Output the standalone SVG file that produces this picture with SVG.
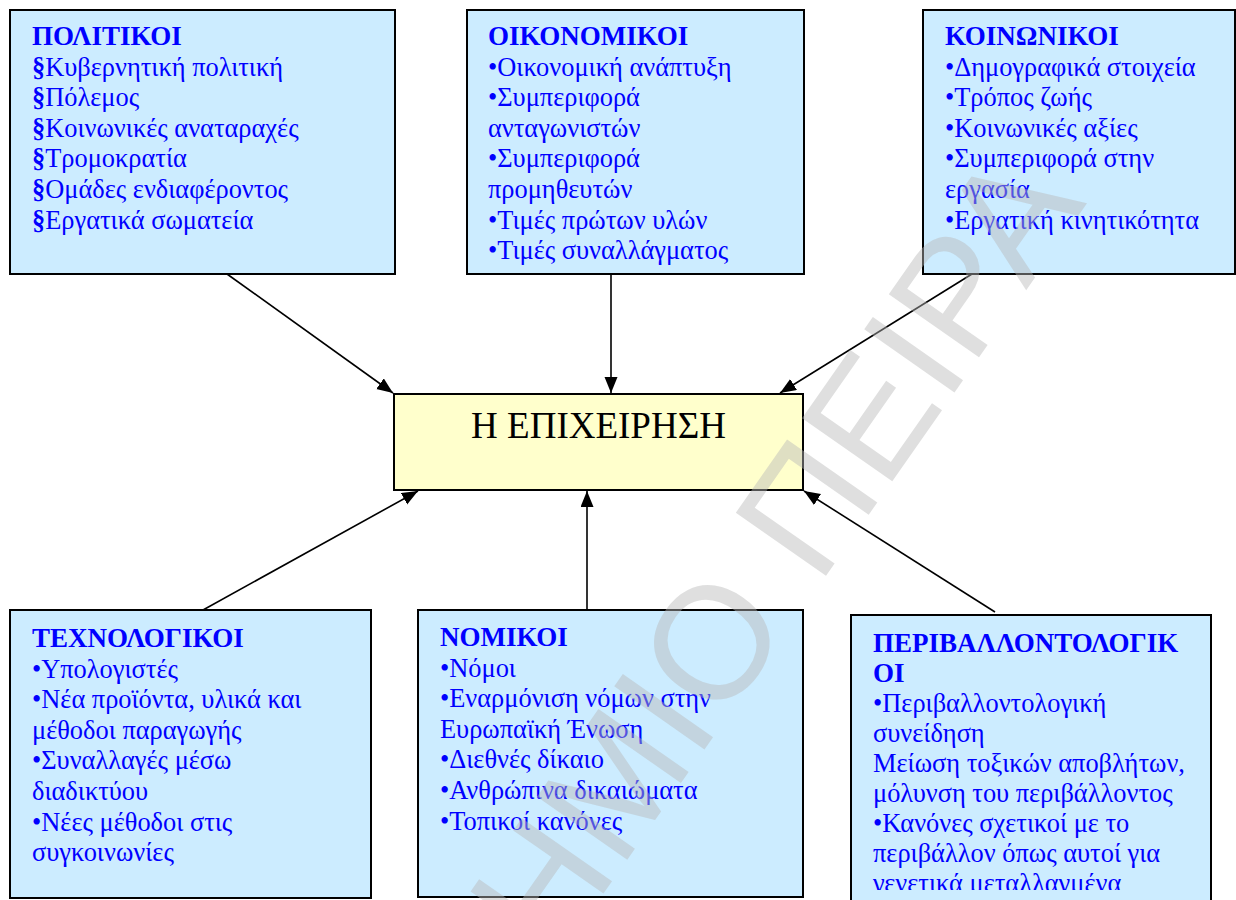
<svg xmlns="http://www.w3.org/2000/svg" width="1236" height="900" viewBox="0 0 1236 900">
  <style>
    .box { fill: #CCECFF; stroke: #000; stroke-width: 2; }
    .core { fill: #FFFFCC; stroke: #000; stroke-width: 2; }
    .txt { font-family: "Liberation Serif", "Times New Roman", serif; font-size: 26.4px; fill: #0000FF; }
    .ttl { font-weight: bold; font-size: 27px; }
    .sec { font-weight: bold; }
    .core-txt { font-family: "Liberation Serif", "Times New Roman", serif; font-size: 37px; fill: #000; text-anchor: middle; }
    .link { stroke: #000; stroke-width: 1.6; fill: none; marker-end: url(#arrow); }
    .mark { font-family: "Liberation Sans", Arial, sans-serif; font-size: 160px; fill: #B8B8B8; fill-opacity: 0.45; }
  </style>
  <defs>
    <marker id="arrow" markerUnits="userSpaceOnUse" markerWidth="18" markerHeight="14" refX="16" refY="6.5" orient="auto">
      <path d="M0,0 L16,6.5 L0,13 z" fill="#000"/>
    </marker>
    <clipPath id="clip-env">
      <rect x="851" y="615" width="360" height="275"/>
    </clipPath>
  </defs>

  <!-- connectors -->
  <g id="connectors">
    <line class="link" x1="227" y1="274" x2="393" y2="393"/>
    <line class="link" x1="611" y1="274" x2="611" y2="393"/>
    <line class="link" x1="972" y1="274" x2="780" y2="393"/>
    <line class="link" x1="203" y1="610" x2="418" y2="491"/>
    <line class="link" x1="587" y1="610" x2="587" y2="491"/>
    <line class="link" x1="995" y1="612" x2="804" y2="491"/>
  </g>

  <!-- political -->
  <g id="political">
    <rect class="box" x="10" y="10" width="385" height="264"/>
    <text class="txt">
      <tspan class="ttl" x="32" y="45">ΠΟΛΙΤΙΚΟΙ</tspan>
      <tspan x="32" y="75.6"><tspan class="sec">§</tspan>Κυβερνητική πολιτική</tspan>
      <tspan x="32" y="106.2"><tspan class="sec">§</tspan>Πόλεμος</tspan>
      <tspan x="32" y="136.8"><tspan class="sec">§</tspan>Κοινωνικές αναταραχές</tspan>
      <tspan x="32" y="167.4"><tspan class="sec">§</tspan>Τρομοκρατία</tspan>
      <tspan x="32" y="198"><tspan class="sec">§</tspan>Ομάδες ενδιαφέροντος</tspan>
      <tspan x="32" y="228.6"><tspan class="sec">§</tspan>Εργατικά σωματεία</tspan>
    </text>
  </g>

  <!-- economic -->
  <g id="economic">
    <rect class="box" x="467" y="10" width="337" height="264"/>
    <text class="txt">
      <tspan class="ttl" x="488" y="45">ΟΙΚΟΝΟΜΙΚΟΙ</tspan>
      <tspan x="488" y="75.6">•Οικονομική ανάπτυξη</tspan>
      <tspan x="488" y="106.2">•Συμπεριφορά</tspan>
      <tspan x="488" y="136.8">ανταγωνιστών</tspan>
      <tspan x="488" y="167.4">•Συμπεριφορά</tspan>
      <tspan x="488" y="198">προμηθευτών</tspan>
      <tspan x="488" y="228.6">•Τιμές πρώτων υλών</tspan>
      <tspan x="488" y="259.2">•Τιμές συναλλάγματος</tspan>
    </text>
  </g>

  <!-- social -->
  <g id="social">
    <rect class="box" x="923" y="10" width="312" height="264"/>
    <text class="txt">
      <tspan class="ttl" x="945" y="45">ΚΟΙΝΩΝΙΚΟΙ</tspan>
      <tspan x="945" y="75.6">•Δημογραφικά στοιχεία</tspan>
      <tspan x="945" y="106.2">•Τρόπος ζωής</tspan>
      <tspan x="945" y="136.8">•Κοινωνικές αξίες</tspan>
      <tspan x="945" y="167.4">•Συμπεριφορά στην</tspan>
      <tspan x="945" y="198">εργασία</tspan>
      <tspan x="945" y="228.6">•Εργατική κινητικότητα</tspan>
    </text>
  </g>

  <!-- the firm -->
  <g id="firm">
    <rect class="core" x="394" y="394" width="409" height="96"/>
    <text class="core-txt" x="598.5" y="438">Η ΕΠΙΧΕΙΡΗΣΗ</text>
  </g>

  <!-- technological -->
  <g id="technological">
    <rect class="box" x="10" y="610" width="361" height="288"/>
    <text class="txt">
      <tspan class="ttl" x="32" y="647">ΤΕΧΝΟΛΟΓΙΚΟΙ</tspan>
      <tspan x="32" y="677.6">•Υπολογιστές</tspan>
      <tspan x="32" y="708.2">•Νέα προϊόντα, υλικά και</tspan>
      <tspan x="32" y="738.8">μέθοδοι παραγωγής</tspan>
      <tspan x="32" y="769.4">•Συναλλαγές μέσω</tspan>
      <tspan x="32" y="800">διαδικτύου</tspan>
      <tspan x="32" y="830.6">•Νέες μέθοδοι στις</tspan>
      <tspan x="32" y="861.2">συγκοινωνίες</tspan>
    </text>
  </g>

  <!-- legal -->
  <g id="legal">
    <rect class="box" x="418" y="610" width="385" height="287"/>
    <text class="txt">
      <tspan class="ttl" x="440" y="646">ΝΟΜΙΚΟΙ</tspan>
      <tspan x="440" y="676.6">•Νόμοι</tspan>
      <tspan x="440" y="707.2">•Εναρμόνιση νόμων στην</tspan>
      <tspan x="440" y="737.8">Ευρωπαϊκή Ένωση</tspan>
      <tspan x="440" y="768.4">•Διεθνές δίκαιο</tspan>
      <tspan x="440" y="799">•Ανθρώπινα δικαιώματα</tspan>
      <tspan x="440" y="829.6">•Τοπικοί κανόνες</tspan>
    </text>
  </g>

  <!-- environmental -->
  <g id="environmental">
    <rect class="box" x="851" y="615" width="360" height="300"/>
    <text class="txt" clip-path="url(#clip-env)">
      <tspan class="ttl" x="873" y="651.5">ΠΕΡΙΒΑΛΛΟΝΤΟΛΟΓΙΚ</tspan>
      <tspan class="ttl" x="873" y="681.5">ΟΙ</tspan>
      <tspan x="873" y="711.5">•Περιβαλλοντολογική</tspan>
      <tspan x="873" y="741.5">συνείδηση</tspan>
      <tspan x="873" y="771.5">Μείωση τοξικών αποβλήτων,</tspan>
      <tspan x="873" y="801.5">μόλυνση του περιβάλλοντος</tspan>
      <tspan x="873" y="831.5">•Κανόνες σχετικοί με το</tspan>
      <tspan x="873" y="861.5">περιβάλλον όπως αυτοί για</tspan>
      <tspan x="873" y="892">γενετικά μεταλλαγμένα</tspan>
    </text>
  </g>

  <!-- diagonal watermark over everything -->
  <g id="watermark">
    <text class="mark" transform="translate(818.5,586.6) rotate(-55)"><tspan x="-44.5" y="0" text-anchor="end">ΗΜΙΟ</tspan><tspan x="0" y="0">ΠΕΙΡΑ</tspan></text>
  </g>
</svg>
